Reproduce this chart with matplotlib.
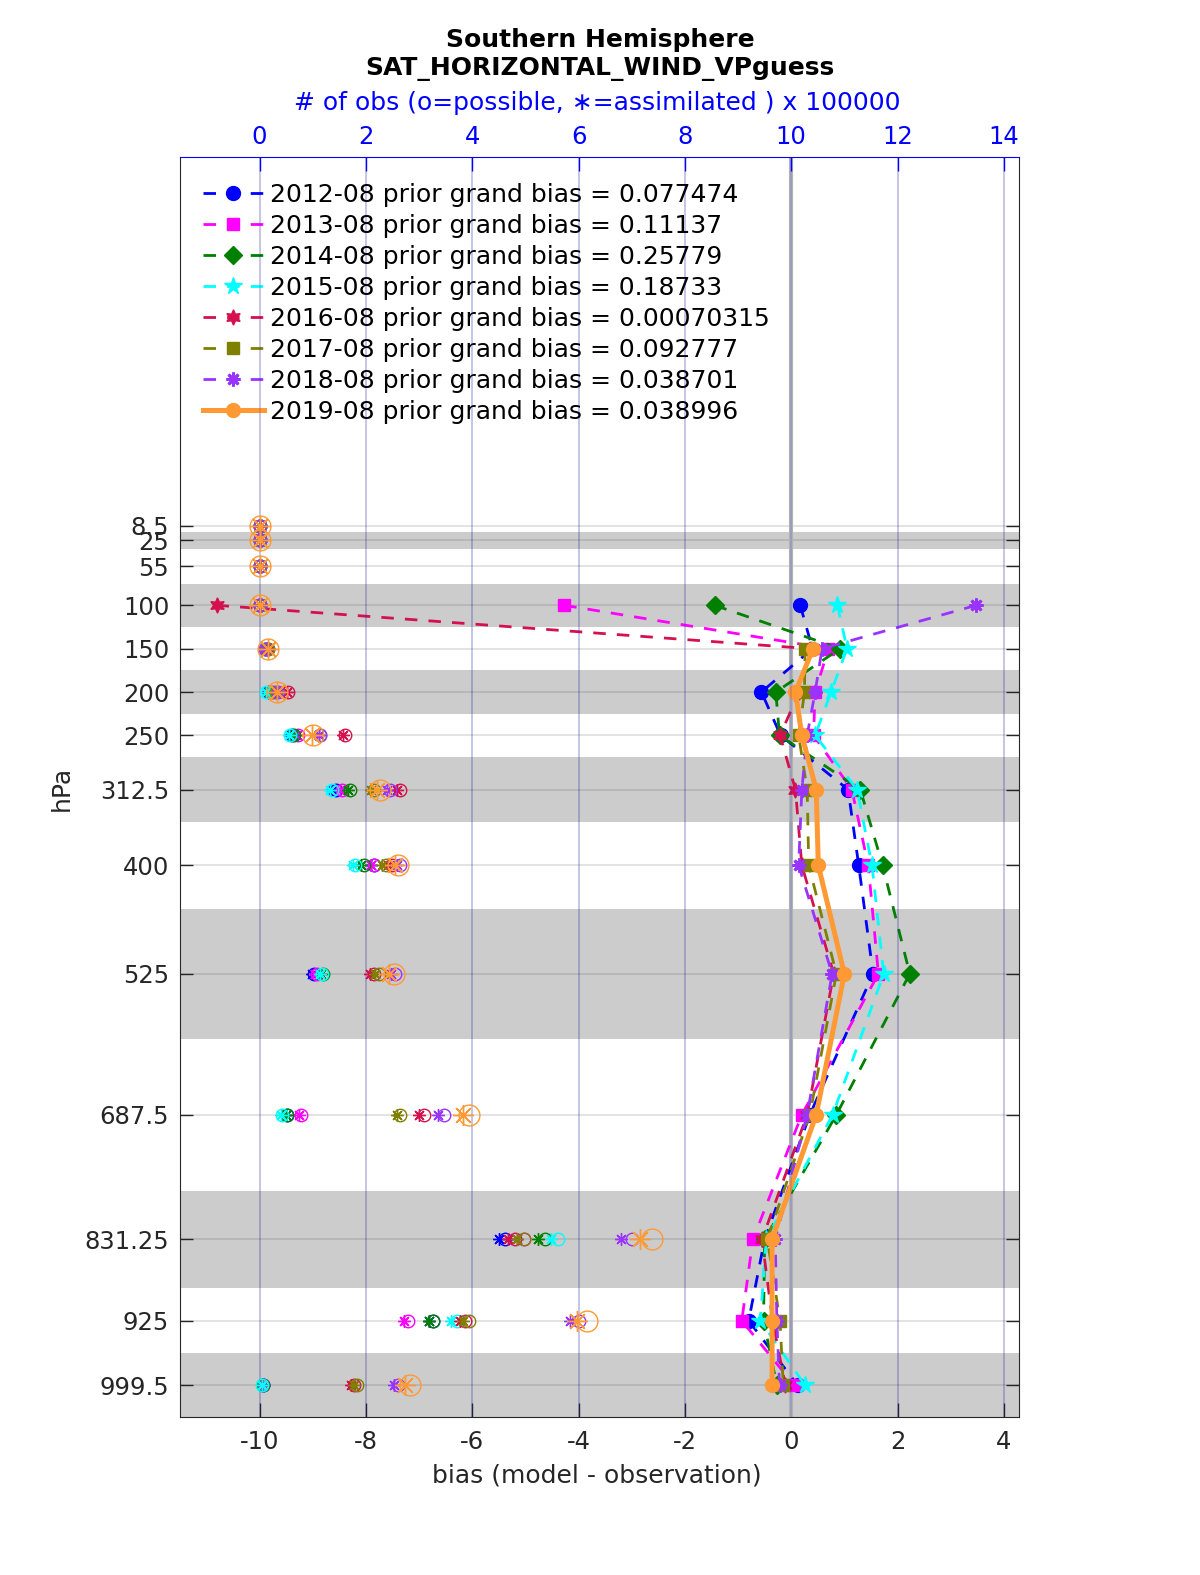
import numpy as np
import matplotlib
matplotlib.use('Agg')
import matplotlib.pyplot as plt

plt.rcParams['axes.unicode_minus'] = False
plt.rcParams['font.family'] = ['DejaVu Sans']

nan = np.nan

# pressure levels (hPa) and layer edges
levels = [8.5, 25, 55, 100, 150, 200, 250, 312.5, 400, 525, 687.5, 831.25, 925, 999.5]
level_labels = ['8.5', '25', '55', '100', '150', '200', '250', '312.5', '400',
                '525', '687.5', '831.25', '925', '999.5']
layer_edges = [2, 15, 35, 75, 125, 175, 225, 275, 350, 450, 600, 775, 887.5, 962.5, 1036.5]

years = ['2012-08', '2013-08', '2014-08', '2015-08', '2016-08', '2017-08', '2018-08', '2019-08']
grand_bias = ['0.077474', '0.11137', '0.25779', '0.18733', '0.00070315',
              '0.092777', '0.038701', '0.038996']

# bias (model - observation) per level
bias_2012 = [nan, nan, nan, 0.17, 0.40, -0.56, -0.20, 1.07, 1.27, 1.54, 0.35, -0.50, -0.80, 0.12]
bias_2013 = [nan, nan, nan, -4.27, 0.70, 0.45, 0.42, 1.14, 1.45, 1.64, 0.20, -0.72, -0.93, 0.06]
bias_2014 = [nan, nan, nan, -1.44, 0.92, -0.29, -0.22, 1.30, 1.72, 2.23, 0.85, -0.50, -0.52, -0.27]
bias_2015 = [nan, nan, nan, 0.87, 1.05, 0.75, 0.45, 1.24, 1.52, 1.74, 0.78, -0.47, -0.58, 0.26]
bias_2016 = [nan, nan, nan, -10.81, 0.35, 0.15, -0.21, 0.08, 0.20, 0.80, 0.30, -0.55, -0.35, -0.11]
bias_2017 = [nan, nan, nan, nan, 0.26, 0.25, 0.14, 0.30, 0.33, 0.85, 0.35, -0.45, -0.21, -0.15]
bias_2018 = [nan, nan, nan, 3.48, 0.58, 0.45, 0.30, 0.20, 0.14, 0.77, 0.30, -0.30, -0.27, -0.22]
bias_2019 = [nan, nan, nan, nan, 0.41, 0.08, 0.20, 0.47, 0.51, 1.00, 0.47, -0.36, -0.36, -0.36]

# number of obs possible / assimilated per level
poss_2012 = [0, 0, 0, 800, 12000, 17000, 61000, 143000, 215000, 102000, 51000, 462000, 327000, 6000]
used_2012 = [0, 0, 0, 700, 11000, 16000, 59000, 139000, 209000, 98000, 49000, 450000, 318000, 5500]
poss_2013 = [0, 0, 0, 800, 14000, 25000, 73000, 155000, 215000, 108000, 77000, 497000, 280000, 7000]
used_2013 = [0, 0, 0, 700, 13000, 24000, 71000, 151000, 209000, 104000, 74000, 485000, 272000, 6500]
poss_2014 = [0, 0, 0, 800, 13000, 20000, 65000, 171000, 196000, 120000, 51000, 537000, 327000, 6000]
used_2014 = [0, 0, 0, 700, 12000, 19000, 63000, 166000, 190000, 116000, 49000, 523000, 318000, 5500]
poss_2015 = [0, 0, 0, 800, 10000, 13000, 58000, 136000, 180000, 117000, 42000, 562000, 371000, 5000]
used_2015 = [0, 0, 0, 700, 9000, 12000, 56000, 132000, 175000, 113000, 40000, 548000, 361000, 4500]
poss_2016 = [0, 0, 0, 800, 15000, 54000, 161000, 265000, 249000, 215000, 309000, 481000, 387000, 177000]
used_2016 = [0, 0, 0, 700, 14000, 52000, 157000, 258000, 242000, 208000, 300000, 468000, 377000, 172000]
poss_2017 = [0, 0, 0, 800, 15000, 30000, 114000, 215000, 237000, 224000, 265000, 497000, 393000, 183000]
used_2017 = [0, 0, 0, 700, 14000, 29000, 111000, 209000, 231000, 217000, 258000, 484000, 383000, 178000]
poss_2018 = [0, 0, 0, 800, 10000, 35000, 114000, 246000, 265000, 255000, 346000, 700000, 600000, 261000]
used_2018 = [0, 0, 0, 700, 9000, 34000, 111000, 239000, 258000, 247000, 335000, 680000, 583000, 252000]
poss_2019 = [0, 0, 0, 800, 16000, 33000, 101000, 227000, 261000, 252000, 393000, 738000, 616000, 283000]
used_2019 = [0, 0, 0, 700, 15000, 32000, 98000, 220000, 254000, 244000, 382000, 716000, 598000, 274000]

bias_all = [bias_2012, bias_2013, bias_2014, bias_2015, bias_2016, bias_2017, bias_2018, bias_2019]
poss_all = [poss_2012, poss_2013, poss_2014, poss_2015, poss_2016, poss_2017, poss_2018, poss_2019]
used_all = [used_2012, used_2013, used_2014, used_2015, used_2016, used_2017, used_2018, used_2019]

colors = ['#0000ff', '#ff00ff', '#008000', '#00ffff', '#d4114e', '#808000', '#9933ff', '#ff9933']
markers = ['o', 's', 'D', '*', (6, 1, 0), 's', (8, 2, 0), 'o']
msizes = [10, 8.5, 9, 13, 11, 8.5, 10, 10]

fs = 18
tfs = 17.5

fig = plt.figure(figsize=(12, 15.75), dpi=100)
ax = fig.add_axes([0.1503, 0.1001, 0.6991, 0.8])

# shaded layers
for i in range(1, len(layer_edges) - 1, 2):
    ax.axhspan(layer_edges[i], layer_edges[i + 1], color='#cccccc', lw=0, zorder=0.2)

ax.axvline(0, color='#b3b3b3', lw=3, zorder=0.6)

for k in range(len(years)):
    if k == 7:
        ls, lw = '-', 3.6
    else:
        ls, lw = '--', 2
    line, = ax.plot(bias_all[k], levels, ls=ls, lw=lw, color=colors[k],
                    marker=markers[k], ms=msizes[k], mfc=colors[k], mec=colors[k],
                    mew=2 if k == 6 else 1,
                    label=f'{years[k]} prior grand bias = {grand_bias[k]}', zorder=3)
    if ls == '--':
        line.set_dashes((4.5, 4))

ax.set_xlim(-11.49, 4.29)
ax.set_ylim(1036.5, -416.6)
ax.set_xticks(range(-10, 5, 2))
ax.set_yticks(levels)
ax.set_yticklabels(level_labels)
ax.set_axisbelow(True)
ax.grid(True, color='#262626', alpha=0.15, lw=1.2)
ax.tick_params(axis='x', direction='in', length=10, width=1, top=False,
               labelsize=tfs, colors='#262626', pad=9)
ax.tick_params(axis='y', direction='in', length=9.5, width=1, left=True, right=True,
               labelsize=tfs, colors='#262626', pad=8)
for s in ['left', 'right', 'bottom']:
    ax.spines[s].set_color('#262626')
ax.spines['top'].set_visible(False)

# top axis: obs counts
ax2 = ax.twiny()
for k in range(len(years)):
    big = 15 if k == 7 else 9
    ax2.plot(np.array(poss_all[k]) / 1e5, levels, ls='none', marker='o', ms=big,
             mfc='none', mec=colors[k], mew=1, zorder=4)
    ax2.plot(np.array(used_all[k]) / 1e5, levels, ls='none', marker=(8, 2, 0), ms=big,
             mec=colors[k], mew=1, zorder=4)
ax2.set_xlim(-11.49 + 10, 4.29 + 10)
ax2.set_xticks(range(0, 15, 2))
ax2.grid(True, axis='x', color='blue', alpha=0.15, lw=1.2)
ax2.tick_params(axis='x', direction='in', length=10, width=1, colors='blue',
                labelsize=tfs, pad=6)
ax2.spines['top'].set_color('blue')
for s in ['left', 'right', 'bottom']:
    ax2.spines[s].set_visible(False)

leg = ax.legend(loc='upper left', bbox_to_anchor=(0.0267, 0.980), frameon=False,
                fontsize=fs, handlelength=2.45, handletextpad=0.25,
                labelspacing=0.28, borderaxespad=0, borderpad=0)
leg.set_zorder(10)

fig.text(0.5, 1 - 40 / 1575, 'Southern Hemisphere', ha='center', va='center',
         fontsize=fs, fontweight='bold')
fig.text(0.5, 1 - 69 / 1575, 'SAT_HORIZONTAL_WIND_VPguess', ha='center', va='center',
         fontsize=fs, fontweight='bold')
fig.text(597 / 1200, 1 - 103 / 1575, '# of obs (o=possible, \u2217=assimilated ) x 100000',
         ha='center', va='center', fontsize=fs, color='blue')
fig.text(597 / 1200, 1 - 1476 / 1575, 'bias (model - observation)', ha='center',
         va='center', fontsize=fs, color='#262626')
fig.text(62 / 1200, 1 - 788 / 1575, 'hPa', rotation=90, ha='center', va='center',
         fontsize=fs, color='#262626')

fig.savefig('out.png', dpi=100)
